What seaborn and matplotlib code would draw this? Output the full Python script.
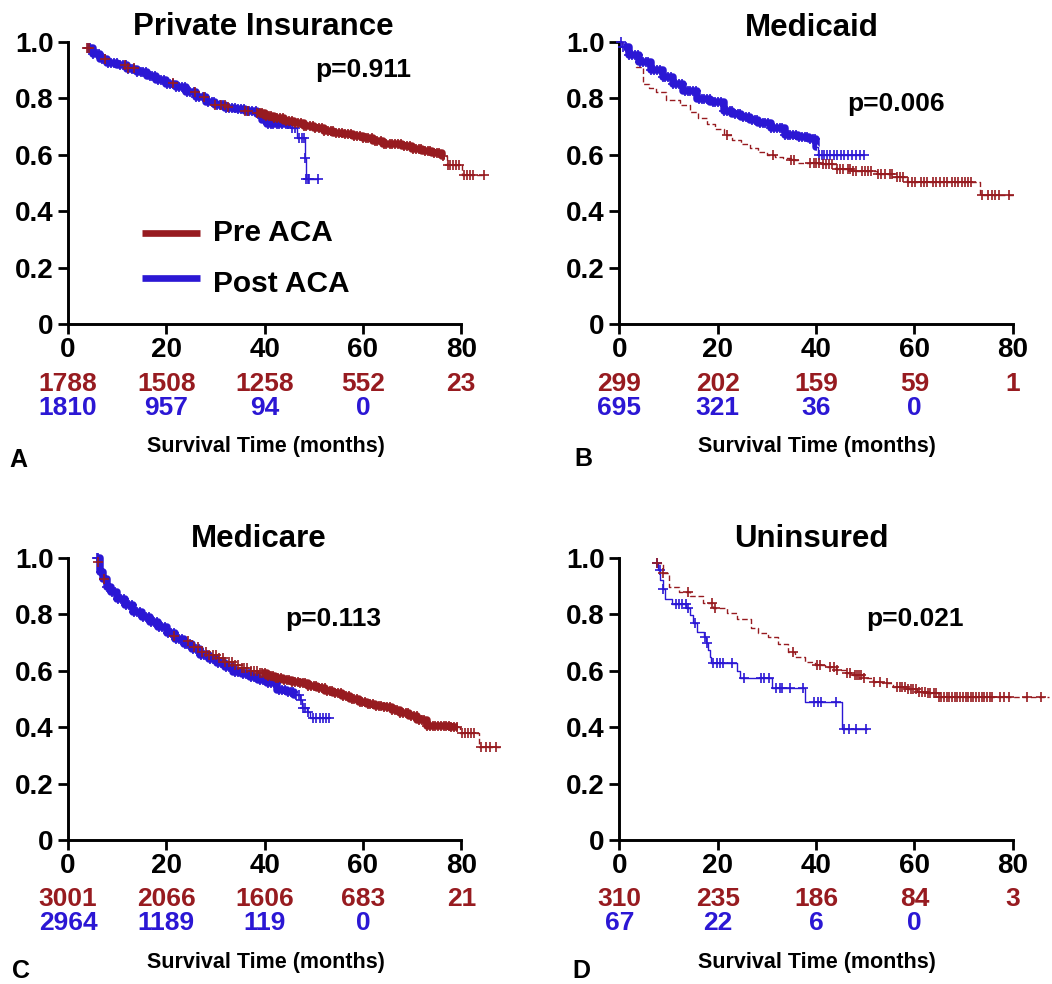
import numpy as np
import matplotlib
matplotlib.use("Agg")
import matplotlib.pyplot as plt
import seaborn as sns

RED = "#971B20"
BLUE = "#2B17D4"

# ---------------- Private insurance ----------------
pri_pre_t = [3.8, 5.0, 6.5, 8.0, 10.0, 12.0, 14.0, 16.0, 18.0, 20.0, 22.0, 24.0, 26.0, 28.0,
             30.0, 32.0, 34.0, 36.0, 38.0, 40.0, 42.0, 44.0, 46.0, 48.0, 50.0, 52.0, 54.0, 56.0,
             58.0, 60.0, 62.0, 64.0, 66.0, 68.0, 70.0, 72.0, 74.0, 76.0, 77.1, 80.1, 84.7]
pri_pre_s = [0.980, 0.958, 0.940, 0.928, 0.918, 0.907, 0.893, 0.880, 0.866, 0.853, 0.840, 0.824,
             0.806, 0.790, 0.776, 0.768, 0.764, 0.756, 0.747, 0.737, 0.730, 0.720, 0.711, 0.703,
             0.694, 0.685, 0.678, 0.672, 0.666, 0.659, 0.648, 0.640, 0.638, 0.630, 0.621, 0.613,
             0.606, 0.596, 0.565, 0.528, 0.528]
pri_pre_cens = [3.9, 4.3, 7.5, 11.6, 12.3, 13.5, 21.4, 25.9, 27.6, 30.0, 31.2, 31.9, 32.6, 36.0,
                36.6, 38.4, 39.0, 39.5, 40.2, 40.8, 41.3, 42.0, 42.6, 43.1, 43.8, 44.4, 44.9, 45.6,
                46.2, 46.7, 47.4, 48.0, 48.5, 49.2, 49.8, 50.3, 51.0, 51.6, 52.1, 52.8, 53.4, 53.9,
                54.6, 55.2, 55.7, 56.4, 57.0, 57.5, 58.2, 58.8, 59.3, 60.0, 60.6, 61.1, 61.8, 62.4,
                62.9, 63.6, 64.2, 64.7, 65.4, 66.0, 66.5, 67.2, 67.8, 68.3, 69.0, 69.6, 70.1, 70.8,
                71.4, 71.9, 72.6, 73.2, 73.7, 74.4, 75.0, 75.5, 76.2, 77.3, 77.8, 78.4, 79.0, 79.6,
                80.6, 81.2, 81.8, 82.3, 84.6]
pri_pre_dense = (38.5, 76.6)

pri_post_t = [3.8, 5.0, 6.5, 8.0, 10.0, 12.0, 14.0, 16.0, 18.0, 20.0, 22.0, 24.0, 26.0, 28.0,
              30.0, 32.0, 34.0, 36.0, 38.4, 39.5, 40.5, 45.5, 46.5, 48.2, 48.35, 50.8]
pri_post_s = [0.980, 0.957, 0.938, 0.927, 0.917, 0.905, 0.892, 0.879, 0.865, 0.852, 0.839, 0.823,
              0.805, 0.789, 0.775, 0.767, 0.762, 0.755, 0.745, 0.725, 0.709, 0.695, 0.660, 0.590,
              0.515, 0.515]
pri_post_cens = [4.0, 4.5, 5.1, 5.8, 6.3, 6.9, 7.6, 8.1, 8.7, 9.4, 9.9, 10.5, 11.2, 11.7, 12.3,
                 13.0, 13.5, 14.1, 14.8, 15.3, 15.9, 16.6, 17.1, 17.7, 18.4, 18.9, 19.5, 20.2, 20.7,
                 21.3, 22.0, 22.5, 23.1, 23.8, 24.3, 24.9, 25.6, 26.1, 26.7, 27.4, 27.9, 28.5, 29.2,
                 29.7, 30.3, 31.0, 31.5, 32.1, 32.8, 33.3, 33.9, 34.6, 35.1, 35.7, 36.4, 36.9, 37.5,
                 38.2, 38.7, 39.3, 40.0, 40.7, 41.2, 41.8, 42.5, 43.0, 43.6, 44.3, 44.8, 45.6, 46.1,
                 46.9, 47.6, 48.1, 48.28, 48.5, 48.8, 49.1, 50.8]
pri_post_dense = (4.0, 45.4)
pri_pre_risk = [1788, 1508, 1258, 552, 23]
pri_post_risk = [1810, 957, 94, 0]

# ---------------- Medicaid ----------------
mcd_pre_t = [0.0, 0.55, 1.8, 3.3, 4.7, 6.0, 7.4, 9.5, 12.3, 14.3, 16.0, 17.8, 19.5, 21.2, 23.0,
             24.7, 26.5, 28.1, 30.0, 31.6, 33.3, 35.0, 36.4, 41.2, 44.0, 47.4, 52.3, 55.7, 58.5,
             73.3, 80.2]
mcd_pre_s = [1.0, 0.982, 0.950, 0.911, 0.852, 0.836, 0.822, 0.793, 0.775, 0.751, 0.731, 0.710,
             0.690, 0.669, 0.653, 0.639, 0.623, 0.609, 0.600, 0.592, 0.587, 0.582, 0.570, 0.566,
             0.550, 0.542, 0.533, 0.521, 0.503, 0.456, 0.456]
mcd_pre_cens = [21.9, 31.2, 35.0, 35.5, 38.8, 39.5, 40.0, 40.6, 41.5, 42.0, 42.6, 43.2, 44.2, 44.8,
                45.4, 46.4, 47.0, 47.6, 48.2, 49.3, 50.0, 50.6, 51.2, 52.5, 53.2, 54.0, 55.0, 55.5,
                56.4, 57.0, 57.6, 58.8, 59.5, 60.2, 61.3, 62.0, 62.6, 63.7, 64.3, 65.3, 66.0, 66.6,
                67.6, 68.2, 68.8, 69.7, 70.3, 71.0, 71.6, 73.7, 75.0, 75.7, 76.4, 77.2, 79.3]
mcd_pre_dense = None

mcd_post_t = [0.0, 0.55, 2.0, 4.0, 6.5, 8.8, 11.0, 13.0, 15.7, 18.5, 21.2, 23.0, 24.7, 26.5, 28.1,
              30.9, 33.7, 36.4, 38.5, 39.9, 40.4, 49.7]
mcd_post_s = [1.0, 0.982, 0.955, 0.929, 0.902, 0.876, 0.851, 0.828, 0.799, 0.787, 0.757, 0.745,
              0.734, 0.722, 0.712, 0.696, 0.669, 0.663, 0.657, 0.627, 0.600, 0.600]
mcd_post_cens = [0.3, 0.8, 1.4, 2.0, 2.5, 3.1, 3.7, 4.2, 4.8, 5.4, 5.9, 6.5, 7.1, 7.6, 8.2, 8.8,
                 9.3, 9.9, 10.5, 11.0, 11.6, 12.2, 12.7, 13.3, 13.9, 14.4, 15.0, 15.6, 16.1, 16.7,
                 17.3, 17.8, 18.4, 19.0, 19.5, 20.1, 20.7, 21.2, 21.8, 22.4, 22.9, 23.5, 24.1, 24.6,
                 25.2, 25.8, 26.3, 26.9, 27.5, 28.0, 28.6, 29.2, 29.7, 30.3, 30.9, 31.4, 32.0, 32.6,
                 33.1, 33.7, 34.3, 34.8, 35.4, 36.0, 36.5, 37.1, 37.7, 38.2, 38.8, 39.3, 39.8, 40.6,
                 41.2, 41.7, 42.3, 42.9, 43.6, 44.2, 45.0, 45.7, 46.5, 47.3, 48.1, 48.9, 49.7]
mcd_post_dense = (1.0, 40.2)
mcd_pre_risk = [299, 202, 159, 59, 1]
mcd_post_risk = [695, 321, 36, 0]

# ---------------- Medicare ----------------
mcr_pre_t = [6.0, 6.5, 7.2, 7.9, 8.8, 9.9, 11.5, 13.3, 15.0, 16.7, 18.4, 20.1, 21.4, 23.0, 25.0,
             26.9, 28.6, 30.3, 32.0, 33.6, 35.3, 37.0, 38.7, 40.4, 42.1, 43.8, 45.5, 47.2, 48.9,
             50.6, 52.3, 54.0, 55.7, 57.4, 59.1, 60.8, 62.5, 64.2, 65.9, 67.6, 69.3, 71.0, 73.0,
             77.8, 79.8, 83.5, 87.9]
mcr_pre_s = [0.985, 0.953, 0.927, 0.900, 0.881, 0.858, 0.834, 0.812, 0.794, 0.776, 0.757, 0.737,
             0.724, 0.705, 0.684, 0.668, 0.655, 0.644, 0.632, 0.621, 0.610, 0.600, 0.591, 0.582,
             0.575, 0.567, 0.562, 0.556, 0.547, 0.538, 0.529, 0.520, 0.509, 0.499, 0.490, 0.482,
             0.476, 0.470, 0.460, 0.451, 0.440, 0.426, 0.404, 0.400, 0.378, 0.331, 0.331]
mcr_pre_cens = [6.2, 7.3, 21.6, 24.5, 25.6, 26.4, 27.2, 28.0, 28.6, 29.5, 30.2, 30.8, 31.5, 32.0,
                32.7, 33.3, 34.0, 34.6, 35.3, 35.9, 36.4, 37.2, 37.8, 38.5, 39.0, 39.5, 40.1, 40.6,
                41.2, 41.7, 42.3, 42.8, 43.4, 43.9, 44.5, 45.0, 45.6, 46.1, 46.7, 47.2, 47.8, 48.3,
                48.9, 49.4, 50.0, 50.5, 51.1, 51.6, 52.2, 52.7, 53.3, 53.8, 54.4, 54.9, 55.5, 56.0,
                56.6, 57.1, 57.7, 58.2, 58.8, 59.3, 59.9, 60.4, 61.0, 61.5, 62.1, 62.6, 63.2, 63.7,
                64.3, 64.8, 65.4, 65.9, 66.5, 67.0, 67.6, 68.1, 68.7, 69.2, 69.8, 70.3, 70.9, 71.4,
                72.0, 72.5, 73.1, 73.6, 74.2, 74.7, 75.3, 75.8, 76.4, 76.9, 77.5, 78.0, 78.6, 79.1,
                80.2, 80.8, 81.4, 82.0, 82.6, 84.1, 85.1, 85.8, 87.1]
mcr_pre_dense = (39.5, 79.4)

mcr_post_t = [5.8, 6.5, 7.2, 7.9, 8.8, 9.9, 11.5, 13.3, 15.0, 16.7, 18.4, 20.1, 21.8, 23.5, 25.2,
              26.9, 28.6, 30.3, 32.0, 33.6, 35.3, 37.0, 38.7, 40.4, 42.5, 44.5, 45.9, 47.2, 47.6,
              48.6, 49.3, 53.0]
mcr_post_s = [1.0, 0.951, 0.925, 0.898, 0.878, 0.856, 0.832, 0.810, 0.791, 0.774, 0.754, 0.734,
              0.714, 0.695, 0.677, 0.656, 0.641, 0.627, 0.612, 0.597, 0.587, 0.577, 0.567, 0.556,
              0.532, 0.526, 0.514, 0.496, 0.467, 0.455, 0.431, 0.431]
mcr_post_cens = [5.8, 6.2, 6.7, 7.3, 7.9, 8.4, 9.0, 9.6, 10.1, 10.7, 11.3, 11.8, 12.4, 13.0, 13.5,
                 14.1, 14.7, 15.2, 15.8, 16.4, 16.9, 17.5, 18.1, 18.6, 19.2, 19.8, 20.3, 20.9, 21.5,
                 22.0, 22.6, 23.2, 23.7, 24.3, 24.9, 25.4, 26.0, 26.6, 27.1, 27.7, 28.3, 28.8, 29.4,
                 30.0, 30.5, 31.1, 31.7, 32.2, 32.8, 33.4, 33.9, 34.5, 35.1, 35.6, 36.2, 36.8, 37.3,
                 37.9, 38.5, 39.0, 39.6, 40.2, 40.7, 41.3, 41.9, 42.4, 43.0, 43.6, 44.1, 44.7, 45.3,
                 45.8, 46.4, 47.0, 47.4, 47.9, 48.3, 48.9, 49.8, 50.5, 51.3, 51.9, 52.5, 53.0]
mcr_post_dense = (6.0, 46.4)
mcr_pre_risk = [3001, 2066, 1606, 683, 21]
mcr_post_risk = [2964, 1189, 119, 0]

# ---------------- Uninsured ----------------
uni_pre_t = [7.4, 8.8, 10.1, 12.2, 14.3, 17.0, 19.1, 21.9, 23.9, 26.7, 28.1, 30.2, 32.2, 34.3, 35.7,
             37.8, 39.8, 41.9, 44.0, 46.0, 47.4, 49.5, 51.6, 53.6, 55.7, 58.5, 60.5, 62.6, 65.0,
             87.3]
uni_pre_s = [0.981, 0.946, 0.898, 0.881, 0.865, 0.839, 0.822, 0.804, 0.784, 0.751, 0.733, 0.719,
             0.695, 0.668, 0.648, 0.632, 0.621, 0.612, 0.603, 0.593, 0.585, 0.573, 0.561, 0.556,
             0.544, 0.534, 0.526, 0.522, 0.508, 0.508]
uni_pre_cens = [7.6, 8.9, 14.0, 18.8, 19.4, 35.4, 40.2, 40.9, 42.9, 43.6, 44.3, 46.3, 47.0, 48.0,
                48.4, 48.8, 49.2, 49.7, 51.7, 53.1, 54.4, 56.4, 57.0, 57.5, 58.1, 58.7, 59.3, 59.8,
                60.4, 61.0, 61.6, 62.1, 62.7, 63.2, 63.9, 64.4, 65.0, 65.5, 66.1, 66.6, 67.1, 67.7,
                68.2, 68.7, 69.3, 69.8, 70.4, 70.9, 71.5, 72.0, 72.6, 73.1, 73.7, 74.2, 74.7, 75.3,
                75.8, 77.5, 78.2, 79.2, 82.9, 85.7]
uni_pre_dense = None

uni_post_t = [7.6, 7.8, 8.3, 8.8, 9.3, 10.8, 13.6, 14.3, 15.0, 15.8, 17.2, 17.6, 18.0, 18.5, 18.7,
              24.0, 24.6, 31.0, 37.8, 45.3, 50.3]
uni_post_s = [0.981, 0.957, 0.922, 0.889, 0.854, 0.837, 0.822, 0.798, 0.768, 0.739, 0.721, 0.697,
              0.674, 0.650, 0.629, 0.600, 0.575, 0.540, 0.488, 0.395, 0.395]
uni_post_cens = [7.6, 8.2, 8.8, 11.5, 12.2, 12.8, 13.5, 14.0, 15.3, 17.4, 17.9, 19.1, 19.8, 20.5,
                 21.0, 22.9, 25.3, 28.8, 29.5, 30.5, 31.9, 32.6, 33.1, 34.6, 37.4, 39.6, 40.3, 41.0,
                 44.0, 45.7, 46.7, 48.1, 50.2]
uni_post_dense = None
uni_pre_risk = [310, 235, 186, 84, 3]
uni_post_risk = [67, 22, 6, 0]

risk_ticks = [0, 20, 40, 60, 80]
x_ticks = [0, 20, 40, 60, 80]
y_ticks = [0, 0.2, 0.4, 0.6, 0.8, 1.0]
y_tick_labels = ["0", "0.2", "0.4", "0.6", "0.8", "1.0"]

sns.set_style("ticks")
plt.rcParams["font.family"] = ["Liberation Sans", "DejaVu Sans"]
plt.rcParams["font.weight"] = "bold"
for key in ("text.color", "axes.labelcolor", "xtick.color", "ytick.color", "axes.edgecolor"):
    plt.rcParams[key] = "black"

W, H = 1052, 984
fig = plt.figure(figsize=(W / 100, H / 100), dpi=100)

AX_W, AX_H = 393.3, 282.0


def add_axes(left_px, bottom_px):
    return fig.add_axes([left_px / W, 1 - bottom_px / H, AX_W / W, AX_H / H])


def surv_at(t, s, c):
    idx = np.searchsorted(np.asarray(t), np.asarray(c), side="right") - 1
    return np.asarray(s)[idx]


def km_line(ax, t, s, color, dashed, z):
    ls = (0, (4, 2)) if dashed else "-"
    sns.lineplot(x=t, y=s, ax=ax, color=color, lw=1.0, linestyle=ls,
                 drawstyle="steps-post", estimator=None, sort=False,
                 clip_on=False, zorder=z)


def heavy_censoring(ax, t, s, span, color, z):
    """Stretch where censoring ticks merge into a solid band."""
    if span is None:
        return
    lo, hi = span
    t = np.asarray(t)
    inner = t[(t > lo) & (t < hi)]
    bt = np.concatenate([[lo], inner, [hi]])
    bs = surv_at(t, s, bt)
    sns.lineplot(x=bt, y=bs, ax=ax, color=color, lw=5.4, drawstyle="steps-post",
                 estimator=None, sort=False, clip_on=False, zorder=z,
                 solid_capstyle="butt")


def censor_marks(ax, t, s, cens, color, z):
    sns.scatterplot(x=cens, y=surv_at(t, s, cens), ax=ax, marker="+", s=46,
                    linewidth=1.2, color=color, clip_on=False, zorder=z, legend=False)


panels = [
    dict(pos=(68.0, 324.0), title="Private Insurance", tx=0.497, ty=1.025,
         ptext="p=0.911", px=60.0, py=0.877, letter="A", lx=-0.149, ly=-142.5,
         pre=(pri_pre_t, pri_pre_s, pri_pre_cens), pre_dense=pri_pre_dense,
         post=(pri_post_t, pri_post_s, pri_post_cens), post_dense=pri_post_dense,
         pre_risk=pri_pre_risk, post_risk=pri_post_risk, legend=True),
    dict(pos=(619.4, 324.0), title="Medicaid", tx=0.490, ty=1.021,
         ptext="p=0.006", px=56.2, py=0.756, letter="B", lx=-0.115, ly=-141.5,
         pre=(mcd_pre_t, mcd_pre_s, mcd_pre_cens), pre_dense=mcd_pre_dense,
         post=(mcd_post_t, mcd_post_s, mcd_post_cens), post_dense=mcd_post_dense,
         pre_risk=mcd_pre_risk, post_risk=mcd_post_risk, legend=False),
    dict(pos=(68.0, 840.0), title="Medicare", tx=0.486, ty=1.040,
         ptext="p=0.113", px=54.0, py=0.759, letter="C", lx=-0.143, ly=-137.5,
         pre=(mcr_pre_t, mcr_pre_s, mcr_pre_cens), pre_dense=mcr_pre_dense,
         post=(mcr_post_t, mcr_post_s, mcr_post_cens), post_dense=mcr_post_dense,
         pre_risk=mcr_pre_risk, post_risk=mcr_post_risk, legend=False),
    dict(pos=(619.4, 840.0), title="Uninsured", tx=0.487, ty=1.038,
         ptext="p=0.021", px=60.1, py=0.758, letter="D", lx=-0.119, ly=-137.5,
         pre=(uni_pre_t, uni_pre_s, uni_pre_cens), pre_dense=uni_pre_dense,
         post=(uni_post_t, uni_post_s, uni_post_cens), post_dense=uni_post_dense,
         pre_risk=uni_pre_risk, post_risk=uni_post_risk, legend=False),
]

for p in panels:
    ax = add_axes(*p["pos"])
    pre_t, pre_s, pre_c = p["pre"]
    post_t, post_s, post_c = p["post"]

    km_line(ax, post_t, post_s, BLUE, False, 2.0)
    km_line(ax, pre_t, pre_s, RED, True, 2.2)
    heavy_censoring(ax, post_t, post_s, p["post_dense"], BLUE, 2.6)
    censor_marks(ax, post_t, post_s, post_c, BLUE, 2.8)
    heavy_censoring(ax, pre_t, pre_s, p["pre_dense"], RED, 3.2)
    censor_marks(ax, pre_t, pre_s, pre_c, RED, 3.4)

    ax.set_xlim(0, 80)
    ax.set_ylim(0, 1)
    ax.set_xticks(x_ticks)
    ax.set_xticklabels([str(v) for v in x_ticks])
    ax.set_yticks(y_ticks)
    ax.set_yticklabels(y_tick_labels)
    ax.set_xlabel("")
    ax.set_ylabel("")
    sns.despine(ax=ax)
    for side in ("left", "bottom"):
        ax.spines[side].set_linewidth(2.1)
        ax.spines[side].set_color("black")
    ax.tick_params(axis="both", width=2.0, length=7, labelsize=20, colors="black")
    ax.tick_params(axis="y", pad=3.5)
    ax.tick_params(axis="x", pad=2.5)
    for lab in ax.get_xticklabels() + ax.get_yticklabels():
        lab.set_fontweight("bold")

    ax.text(p["tx"], p["ty"], p["title"], transform=ax.transAxes, ha="center",
            va="baseline", fontsize=22.5, fontweight="bold", color="black")
    ax.text(p["px"], p["py"], p["ptext"], ha="center", va="baseline",
            fontsize=19, fontweight="bold", color="black")

    # numbers at risk below the axis
    xt = ax.get_xaxis_transform()
    for x, n in zip(risk_ticks, p["pre_risk"]):
        ax.text(x, -66.5 / AX_H, str(n), transform=xt, ha="center", va="baseline",
                fontsize=19, fontweight="bold", color=RED, clip_on=False)
    for x, n in zip(risk_ticks, p["post_risk"]):
        ax.text(x, -90.5 / AX_H, str(n), transform=xt, ha="center", va="baseline",
                fontsize=19, fontweight="bold", color=BLUE, clip_on=False)

    ax.text(0.503, -128.0 / AX_H, "Survival Time (months)", transform=ax.transAxes,
            ha="center", va="baseline", fontsize=15.5, fontweight="bold", color="black")
    ax.text(p["lx"], p["ly"] / AX_H, p["letter"], transform=ax.transAxes,
            ha="left", va="baseline", fontsize=18, fontweight="bold", color="black")

    if p["legend"]:
        for (ly_line, ly_text, label, col) in [(0.324, 0.295, "Pre ACA", RED),
                                               (0.162, 0.115, "Post ACA", BLUE)]:
            ax.plot([0.188, 0.336], [ly_line, ly_line], transform=ax.transAxes,
                    color=col, lw=4.8, solid_capstyle="butt", clip_on=False)
            ax.text(0.369, ly_text, label, transform=ax.transAxes, ha="left",
                    va="baseline", fontsize=21.5, fontweight="bold", color="black")

fig.savefig("out.png", dpi=100, facecolor="white")
